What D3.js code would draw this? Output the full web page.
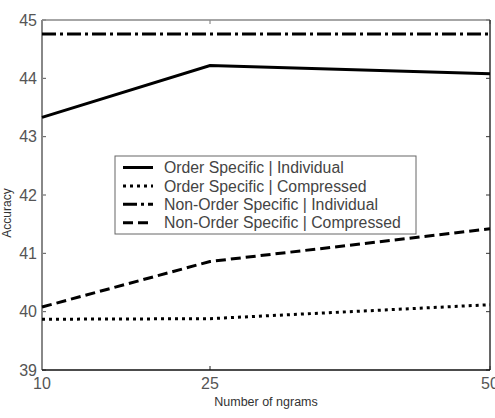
<!DOCTYPE html>
<meta charset="utf-8" />
<head>
  <script src="https://d3js.org/d3.v7.min.js"></script>
  <style>
    body { margin: 0; background: #fff; }
    text { font-family: "Liberation Sans", Arial, sans-serif; }
  </style>
</head>
<body>
  <div id="chart"></div>
</body>
<script>
  // values
  const ngrams = [10, 25, 50];
  const orderIndividual = [43.33, 44.22, 44.08];
  const orderCompressed = [39.87, 39.88, 40.12];
  const nonOrderIndividual = [44.76, 44.76, 44.76];
  const nonOrderCompressed = [40.08, 40.86, 41.42];
  const seriesNames = [
    "Order Specific | Individual",
    "Order Specific | Compressed",
    "Non-Order Specific | Individual",
    "Non-Order Specific | Compressed",
  ];
  const yTicks = [39, 40, 41, 42, 43, 44, 45];

  const W = 495, H = 418;
  const margin = { top: 20, right: 5, bottom: 48, left: 42 };
  const width = W - margin.left - margin.right;
  const height = H - margin.top - margin.bottom;

  const svg = d3.select("#chart").append("svg")
    .attr("width", W).attr("height", H);
  const g = svg.append("g")
    .attr("transform", "translate(" + margin.left + "," + margin.top + ")");

  const x = d3.scaleLinear().domain([10, 50]).range([0, width]);
  const y = d3.scaleLinear().domain([39, 45]).range([height, 0]);

  const series = [
    { name: seriesNames[0], values: orderIndividual, dash: null },
    { name: seriesNames[1], values: orderCompressed, dash: "3,4" },
    { name: seriesNames[2], values: nonOrderIndividual, dash: "14,4,3,4" },
    { name: seriesNames[3], values: nonOrderCompressed, dash: "10,5" },
  ];

  // ticks (inward, on all four sides)
  const tickLen = 4;
  yTicks.forEach(function (t) {
    g.append("line").attr("x1", 0).attr("x2", tickLen)
      .attr("y1", y(t)).attr("y2", y(t)).attr("stroke", "#555");
    g.append("line").attr("x1", width).attr("x2", width - tickLen)
      .attr("y1", y(t)).attr("y2", y(t)).attr("stroke", "#333");
    g.append("text").attr("x", -5).attr("y", y(t)).attr("dy", "0.36em")
      .attr("text-anchor", "end").attr("font-size", 16).attr("fill", "#555")
      .text(t);
  });
  ngrams.forEach(function (t) {
    g.append("line").attr("x1", x(t)).attr("x2", x(t))
      .attr("y1", height).attr("y2", height - tickLen).attr("stroke", "#222");
    g.append("line").attr("x1", x(t)).attr("x2", x(t))
      .attr("y1", 0).attr("y2", tickLen).attr("stroke", "#777");
    g.append("text").attr("x", x(t)).attr("y", height + 19)
      .attr("text-anchor", "middle").attr("font-size", 16).attr("fill", "#555")
      .text(t);
  });

  // frame
  g.append("line").attr("x1", 0).attr("x2", width).attr("y1", 0).attr("y2", 0)
    .attr("stroke", "#888").attr("stroke-width", 1.5);
  g.append("line").attr("x1", width).attr("x2", width).attr("y1", 0).attr("y2", height)
    .attr("stroke", "#333").attr("stroke-width", 1.5);
  g.append("line").attr("x1", 0).attr("x2", 0).attr("y1", 0).attr("y2", height)
    .attr("stroke", "#888").attr("stroke-width", 2);
  g.append("line").attr("x1", 0).attr("x2", width).attr("y1", height).attr("y2", height)
    .attr("stroke", "#111").attr("stroke-width", 1.5);

  const line = d3.line()
    .x(function (d, i) { return x(ngrams[i]); })
    .y(function (d) { return y(d); });

  series.forEach(function (s) {
    g.append("path").datum(s.values)
      .attr("d", line)
      .attr("fill", "none")
      .attr("stroke", "#000")
      .attr("stroke-width", 3)
      .attr("stroke-dasharray", s.dash);
  });

  // legend
  const lg = svg.append("g").attr("transform", "translate(115,156)");
  lg.append("rect").attr("width", 301).attr("height", 78)
    .attr("fill", "#fff").attr("stroke", "#666").attr("stroke-width", 1);
  series.forEach(function (s, i) {
    const yy = 11.5 + i * 18.4;
    lg.append("line").attr("x1", 8).attr("x2", 38).attr("y1", yy).attr("y2", yy)
      .attr("stroke", "#000").attr("stroke-width", 3)
      .attr("stroke-dasharray", s.dash);
    lg.append("text").attr("x", 49).attr("y", yy).attr("dy", "0.36em")
      .attr("font-size", 15.8).attr("fill", "#444").text(s.name);
  });

  // axis titles
  svg.append("text")
    .attr("x", margin.left + width / 2).attr("y", 406)
    .attr("text-anchor", "middle").attr("font-size", 12.5).attr("fill", "#333")
    .text("Number of ngrams");
  svg.append("text")
    .attr("transform", "translate(11,213) rotate(-90)")
    .attr("text-anchor", "middle").attr("font-size", 12).attr("fill", "#333")
    .text("Accuracy");
</script>
